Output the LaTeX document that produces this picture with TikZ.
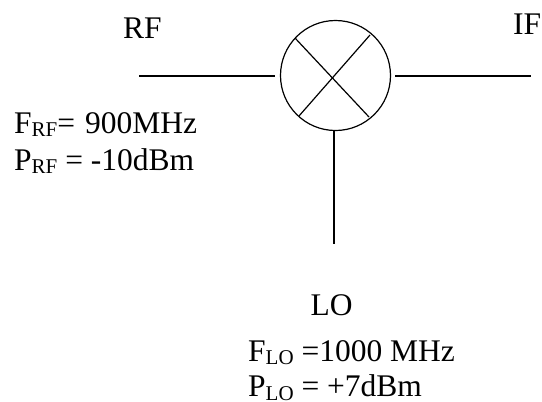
\documentclass[tikz,border=0pt]{standalone}
\usepackage{fontspec}
\setmainfont{Liberation Serif}
\usetikzlibrary{positioning}
\tikzset{
    wire/.style={line width=1.2pt},
    lbl/.style={inner sep=0pt, anchor=base west, font=\fontsize{31.5}{31.5}\selectfont},
}
\newcommand{\lowsub}[1]{\raisebox{-3.5pt}{\fontsize{21}{21}\selectfont #1}}

\begin{document}
\begin{tikzpicture}[x=1pt, y=-1pt]
    \useasboundingbox (0,0) rectangle (542,402);
    % Mixer
    \node[draw, wire, circle, minimum size=110pt, inner sep=0pt, outer sep=0pt] (Mixer) at (335.5,75.5) {};
    \coordinate (CrossA) at (295,38);
    \coordinate (CrossB) at (369,117);
    \coordinate (CrossC) at (370,35);
    \coordinate (CrossD) at (299,116);
    \draw[wire] (CrossA) -- (CrossB);
    \draw[wire] (CrossC) -- (CrossD);

    % Ports
    \coordinate (RFport) at (139,76);
    \coordinate (RFend) at (275,76);
    \coordinate (IFstart) at (395,76);
    \coordinate (IFport) at (530.5,76);
    \coordinate (LOstart) at (334,130);
    \coordinate (LOport) at (334,244);
    \draw[wire] (RFport) -- (RFend);
    \draw[wire] (IFstart) -- (IFport);
    \draw[wire] (LOstart) -- (LOport);

    % Labels
    \node[lbl] (RF) at (123,38.5) {RF};
    \node[lbl] (IF) at (513,34) {IF};
    \node[lbl] (LO) at (310.5,315) {LO};
    \node[lbl] (FRF) at (14,133) {F\lowsub{RF}=\kern2pt{} 900MHz};
    \node[lbl] (PRF) at (14,170) {P\lowsub{RF} = -10dBm};
    \node[lbl] (FLO) at (248,361) {F\lowsub{LO} =1000 MHz};
    \node[lbl] (PLO) at (248,396.5) {P\lowsub{LO} = +7dBm};
\end{tikzpicture}
\end{document}
